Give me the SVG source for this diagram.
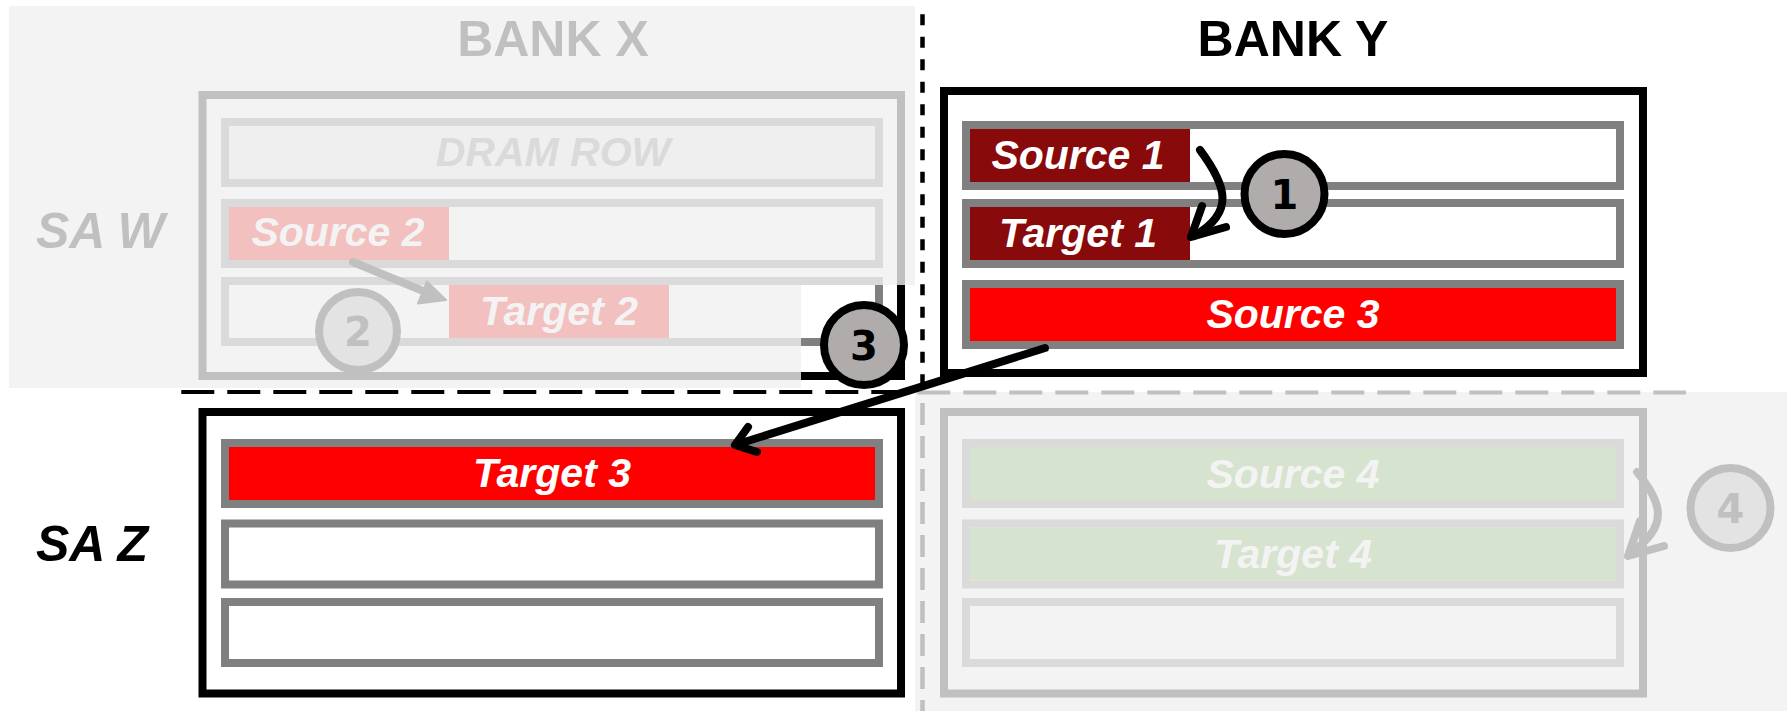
<svg xmlns="http://www.w3.org/2000/svg" width="1787" height="711" viewBox="0 0 1787 711">
<defs>
<style>
.title{font-family:"Liberation Sans",Arial,sans-serif;font-weight:bold;font-size:50px;text-anchor:middle}
.sa{font-family:"Liberation Sans",Arial,sans-serif;font-weight:bold;font-style:italic;font-size:50px}
.lbl{font-family:"Liberation Sans",Arial,sans-serif;font-weight:bold;font-style:italic;font-size:41px;text-anchor:middle;fill:#fff}
.box{fill:#fff;stroke:#000;stroke-width:8}
.row{fill:#fff;stroke:#808080;stroke-width:8}
.num{font-family:"DejaVu Sans",sans-serif;font-weight:bold;font-size:40px;text-anchor:middle}
.badge{fill:#b0acab;stroke:#000;stroke-width:8}
.badgef{fill:#e3e3e3;stroke:#c0c0c0;stroke-width:8}
.arr{fill:none;stroke:#000;stroke-width:8;stroke-linecap:round;stroke-linejoin:round}
.arrf{fill:none;stroke:#c0c0c0;stroke-width:8;stroke-linecap:round;stroke-linejoin:round}
.fade{fill:#f0f0f0;opacity:0.8}
</style>
</defs>
<rect width="1787" height="711" fill="#fff"/>

<g id="bank-x">
<text class="title" x="553" y="56" fill="#000">BANK X</text>
<text class="sa" x="36" y="248" fill="#000">SA W</text>
<rect class="box" x="202.5" y="95" width="698.5" height="281"/>
<rect class="row" x="225" y="122" width="654" height="61" fill="#e8e8e8" style="fill:#e8e8e8"/>
<text x="553" y="166" font-family="Liberation Sans, Arial, sans-serif" font-weight="bold" font-style="italic" font-size="41" text-anchor="middle" fill="#808080">DRAM ROW</text>
<rect class="row" x="225" y="203" width="654" height="61"/>
<rect x="229" y="207" width="220" height="53" fill="#ff0000"/>
<text class="lbl" x="338" y="246">Source 2</text>
<rect class="row" x="225" y="281" width="654" height="61"/>
<rect x="449" y="285" width="220" height="53" fill="#ff0000"/>
<text class="lbl" x="559" y="325">Target 2</text>
</g>

<g id="bank-y-lower">
<rect class="box" x="944" y="412" width="699" height="281.5"/>
<rect class="row" x="966" y="443" width="654" height="61"/>
<rect x="970" y="447" width="646" height="53" fill="#70ad47"/>
<text class="lbl" x="1293" y="488">Source 4</text>
<rect class="row" x="966" y="523.5" width="654" height="61"/>
<rect x="970" y="527.5" width="646" height="53" fill="#70ad47"/>
<text class="lbl" x="1293" y="568">Target 4</text>
<rect class="row" x="966" y="602" width="654" height="61"/>
</g>

<g id="fade-overlays">
<polygon class="fade" points="9,6 915,6 915,285 801,285 801,388 9,388"/>
<rect class="fade" x="915" y="392" width="872" height="319"/>
</g>

<g id="bank-y">
<text class="title" x="1293" y="56" fill="#000">BANK Y</text>
<rect class="box" x="944" y="91" width="699" height="282"/>
<rect class="row" x="966" y="125" width="654" height="61"/>
<rect x="970" y="129" width="220" height="53" fill="#880a0a"/>
<text class="lbl" x="1078" y="169">Source 1</text>
<rect class="row" x="966" y="203" width="654" height="61"/>
<rect x="970" y="207" width="220" height="53" fill="#880a0a"/>
<text class="lbl" x="1078" y="247">Target 1</text>
<rect class="row" x="966" y="284" width="654" height="61"/>
<rect x="970" y="288" width="646" height="53" fill="#ff0000"/>
<text class="lbl" x="1293" y="328">Source 3</text>
</g>

<g id="sa-z">
<text class="sa" x="36" y="561" fill="#000">SA Z</text>
<rect class="box" x="202.5" y="412" width="698.5" height="281.5"/>
<rect class="row" x="225" y="443" width="654" height="61"/>
<rect x="229" y="447" width="646" height="53" fill="#ff0000"/>
<text class="lbl" x="552" y="487">Target 3</text>
<rect class="row" x="225" y="523.5" width="654" height="61"/>
<rect class="row" x="225" y="602" width="654" height="61"/>
</g>

<g id="dividers">
<line x1="181.3" y1="392" x2="905" y2="392" stroke="#000" stroke-width="4" stroke-dasharray="33 13"/>
<line x1="917.3" y1="392.5" x2="1686" y2="392.5" stroke="#c0c0c0" stroke-width="4" stroke-dasharray="33 13"/>
<line x1="922.5" y1="14.2" x2="922.5" y2="390" stroke="#000" stroke-width="4.5" stroke-dasharray="11 11.5"/>
<line x1="922.5" y1="403" x2="922.5" y2="711" stroke="#c0c0c0" stroke-width="4.5" stroke-dasharray="22 11"/>
</g>

<g id="connectors">
<path class="arr" d="M1200,150 C1226,185 1236,212 1194,236"/>
<path class="arr" d="M1202,206 L1191,237 L1226,227"/>
<path class="arrf" d="M353,262 L428,293"/>
<polygon points="446,300 418,303.5 427,281.5" fill="#c0c0c0" stroke="#c0c0c0" stroke-width="2" stroke-linejoin="round"/>
<path class="arr" d="M1045,348 L738,444"/>
<path class="arr" d="M748,427 L735,445 L757,452"/>
<path class="arrf" d="M1637,472 C1660,500 1672,525 1630,553"/>
<path class="arrf" d="M1640,521 L1628,556 L1664,546"/>
</g>

<g id="badge-1"><circle class="badge" cx="1284.5" cy="194" r="40"/><text class="num" x="1284.5" y="209" fill="#000">1</text></g>
<g id="badge-2"><circle class="badgef" cx="358" cy="331" r="39"/><text class="num" x="358" y="346" fill="#c0c0c0">2</text></g>
<g id="badge-3"><circle class="badge" cx="864" cy="345" r="40"/><text class="num" x="864" y="360" fill="#000">3</text></g>
<g id="badge-4"><circle class="badgef" cx="1730.5" cy="508" r="40"/><text class="num" x="1730.5" y="523" fill="#c0c0c0">4</text></g>
</svg>
